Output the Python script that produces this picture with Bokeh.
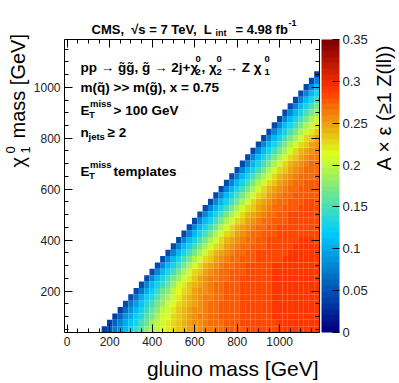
import math
import numpy as np
from bokeh.plotting import figure
from bokeh.models import (ColumnDataSource, LinearColorMapper, ColorBar, Label,
                          LinearAxis, FixedTicker, Range1d, CustomJSTickFormatter)
from bokeh.embed import file_html
from bokeh.resources import INLINE

# ---------------- data ----------------
gluino_mass = [175, 200, 225, 250, 275, 300, 325, 350, 375, 400, 425, 450, 475, 500,
               525, 550, 575, 600, 625, 650, 675, 700, 725, 750, 775, 800, 825, 850,
               875, 900, 925, 950, 975, 1000, 1025, 1050, 1075, 1100, 1125, 1150, 1175]
chi_mass = [50, 75, 100, 125, 150, 175, 200, 225, 250, 275, 300, 325, 350, 375, 400,
            425, 450, 475, 500, 525, 550, 575, 600, 625, 650, 675, 700, 725, 750, 775,
            800, 825, 850, 875, 900, 925, 950, 975, 1000, 1025, 1050]
# A x eff (per mille); row i = chi_mass[i], k-th entry = gluino_mass[i + k]
acc_rows = [
    [40,52,70,90,108,122,140,158,175,190,202,212,220,228,235,241,246,251,256,260,264,267,270,273,275,277,279,281,282,283,284,285,286,287,287,288,288,289,289,290,289],
    [40,58,78,98,115,130,147,165,182,197,209,219,228,236,243,249,254,258,262,266,269,272,274,276,278,280,281,283,284,285,286,286,287,288,288,289,290,289,288,289],
    [41,62,85,104,122,138,155,173,189,203,215,225,234,242,249,254,259,263,267,270,273,275,277,279,281,282,283,284,285,286,287,288,288,289,290,289,291,289,288],
    [41,66,90,110,128,145,162,180,196,209,221,231,239,247,253,258,262,266,270,273,275,277,279,281,282,283,284,285,286,287,288,289,290,291,290,289,290,289],
    [42,70,96,116,134,152,170,188,203,216,227,236,244,251,257,262,266,270,273,275,277,279,281,282,283,284,285,286,287,288,290,291,292,290,291,289,290],
    [42,73,100,120,139,158,176,194,209,222,232,241,248,255,260,265,269,272,275,277,279,281,282,283,284,285,286,287,289,290,292,291,293,290,289,290],
    [42,76,104,124,143,162,181,199,214,227,237,245,252,258,263,267,271,274,277,279,281,282,283,284,285,286,287,288,290,292,291,293,290,291,289],
    [42,78,106,127,146,165,185,203,218,231,241,249,256,261,266,270,273,276,278,280,282,283,284,285,286,287,288,290,291,293,291,292,290,289],
    [42,79,108,129,148,168,188,206,221,235,245,253,259,264,269,272,275,278,280,281,283,284,285,286,287,288,289,291,292,290,291,290,289],
    [42,80,110,131,150,170,190,208,224,238,248,256,262,267,271,274,277,279,281,282,284,285,286,287,288,289,290,291,290,292,290,289],
    [43,81,111,130,151,171,191,209,225,239,249,257,263,268,272,275,278,280,281,283,284,285,287,288,290,289,291,290,289,290,288],
    [42,80,110,131,150,170,190,208,224,238,248,256,262,267,271,274,277,279,281,282,283,285,286,287,289,290,291,289,288,289],
    [43,80,111,130,151,171,191,209,225,239,249,257,263,268,272,275,278,280,282,283,284,285,286,288,289,290,288,289,287],
    [42,81,110,131,150,170,190,208,224,238,248,256,262,267,271,274,277,279,281,282,283,284,286,287,288,289,288,287],
    [42,80,111,130,151,171,191,209,225,239,249,257,263,268,272,275,278,280,281,283,284,285,286,287,288,287,286],
    [43,80,110,131,150,170,190,208,224,238,248,256,262,267,271,274,277,279,281,282,283,284,285,286,285,284],
    [42,81,111,130,151,171,191,209,225,239,249,257,263,268,272,275,278,280,281,283,284,285,286,285,284],
    [42,80,110,131,150,170,190,208,224,238,248,256,262,267,271,274,277,279,281,282,283,284,283,282],
    [43,80,111,130,151,171,191,209,225,239,249,257,263,268,272,275,278,280,281,282,283,282,281],
    [42,81,110,131,150,170,190,208,224,238,248,256,262,267,271,274,277,279,280,281,281,280],
    [42,80,111,130,151,171,191,209,225,239,249,257,263,268,272,275,277,279,280,280,279],
    [43,80,110,131,150,170,190,208,224,238,248,256,262,267,271,274,276,278,279,278],
    [42,81,111,130,151,171,191,209,225,239,249,257,263,268,272,274,276,277,277],
    [42,80,110,131,150,170,190,208,224,238,248,256,262,267,270,273,275,276],
    [43,80,111,130,151,171,191,209,225,239,249,257,263,267,270,272,274],
    [42,81,110,131,150,170,190,208,224,238,248,256,262,266,269,271],
    [42,80,111,130,151,171,191,209,225,239,249,257,262,266,268],
    [43,80,110,131,150,170,190,208,224,238,248,256,261,265],
    [42,81,111,130,151,171,191,209,225,239,249,256,261],
    [42,80,110,131,150,170,190,208,224,238,247,255],
    [43,80,111,130,151,171,191,209,225,238,247],
    [42,81,110,131,150,170,190,208,223,237],
    [42,80,111,130,151,171,190,207,222],
    [43,80,110,131,150,170,189,206],
    [42,81,111,130,150,169,188],
    [42,80,110,130,149,168],
    [43,80,110,130,148],
    [42,80,109,129],
    [42,79,108],
    [42,79],
    [41],
]
x_ticks = [0, 200, 400, 600, 800, 1000]
y_ticks = [200, 400, 600, 800, 1000]
z_ticks = [0, 0.05, 0.1, 0.15, 0.2, 0.25, 0.3, 0.35]

# ---------------- build source ----------------
gx, cy, vals = [], [], []
for i, row in enumerate(acc_rows):
    for g, v in zip(gluino_mass[i:], row):
        gx.append(g)
        cy.append(chi_mass[i])
        vals.append(v / 1000.0)
src = ColumnDataSource(dict(g=gx, chi=cy, v=vals))

# ROOT-style gradient palette
stops = [0.00, 0.34, 0.61, 0.84, 1.00]
reds = [0.00, 0.00, 0.87, 1.00, 0.51]
greens = [0.00, 0.81, 1.00, 0.20, 0.00]
blues = [0.51, 1.00, 0.12, 0.00, 0.00]
NCOL = 50
palette = []
for i in range(NCOL):
    f = i / (NCOL - 1)
    r = np.interp(f, stops, reds)
    gg = np.interp(f, stops, greens)
    b = np.interp(f, stops, blues)
    palette.append("#%02x%02x%02x" % (int(round(r * 255)), int(round(gg * 255)), int(round(b * 255))))
mapper = LinearColorMapper(palette=palette, low=0.0, high=0.35)

# ---------------- geometry (page pixels) ----------------
W, H = 399, 383
PL, PR, PT, PB = 64, 319, 39, 332          # plot box on the page
X0, X1 = -12.5, 1187.5                      # histogram axis ranges
Y0, Y1 = 37.5, 1187.5
KX = (X1 - X0) / (PR - PL)
KY = (Y1 - Y0) / (PB - PT)
XS, XE = X0 - PL * KX, X1 + (W - PR) * KX
YE, YS = Y1 + PT * KY, Y0 - (H - PB) * KY

p = figure(width=W, height=H, x_range=Range1d(XS, XE), y_range=Range1d(YS, YE),
           output_backend="svg", toolbar_location=None,
           x_axis_type=None, y_axis_type=None,
           min_border_left=0, min_border_right=0, min_border_top=0, min_border_bottom=0)
p.title.visible = False
p.outline_line_color = None
p.background_fill_color = "white"
p.border_fill_color = "white"

p.rect(x="g", y="chi", width=25, height=25, source=src,
       fill_color={"field": "v", "transform": mapper}, line_color=None)

def make_axis(ticks, minor, loc, bounds, labels=True):
    ax = LinearAxis(ticker=FixedTicker(ticks=ticks, minor_ticks=minor),
                    fixed_location=loc, bounds=bounds)
    ax.major_tick_in = 8
    ax.major_tick_out = 0
    ax.minor_tick_in = 4
    ax.minor_tick_out = 0
    ax.axis_line_color = "black"
    ax.major_tick_line_color = "black"
    ax.minor_tick_line_color = "black"
    ax.major_label_text_font = "Liberation Sans"
    ax.major_label_text_color = "#222222"
    ax.major_label_text_font_size = "12px"
    ax.major_label_standoff = 4
    if not labels:
        ax.formatter = CustomJSTickFormatter(code="return '';")
    return ax

xminor = list(range(0, 1200, 50))
yminor = list(range(50, 1200, 50))
p.add_layout(make_axis(x_ticks, xminor, Y0, (X0, X1)), "below")
p.add_layout(make_axis(y_ticks, yminor, X0, (Y0, Y1)), "left")
p.add_layout(make_axis(x_ticks, xminor, Y1, (X0, X1), labels=False), "above")
p.add_layout(make_axis(y_ticks, yminor, X1, (Y0, Y1), labels=False), "right")

cb = ColorBar(color_mapper=mapper, ticker=FixedTicker(ticks=z_ticks),
              formatter=CustomJSTickFormatter(code="return Number(tick.toFixed(2)).toString();"),
              width=18, height=PB - PT, padding=0, margin=0, label_standoff=3,
              major_tick_in=7, major_tick_out=0, major_tick_line_color="black",
              minor_tick_line_color=None,
              major_label_text_font="Liberation Sans", major_label_text_font_size="13px",
              major_label_text_color="#222222", bar_line_color=None,
              location=(321, H - PB), background_fill_alpha=0)
p.add_layout(cb)

# ---------------- text helpers (page pixel -> data) ----------------
def dx(xp):
    return XS + xp * KX

def dy(yp):
    return YE - yp * KY

def lab(text, xp, yp, size, bold=True, align="left", angle=0.0):
    p.add_layout(Label(x=dx(xp), y=dy(yp), text=text, text_font="Liberation Sans",
                       text_font_size=f"{size}px",
                       text_font_style="bold" if bold else "normal",
                       text_align=align, text_baseline="alphabetic",
                       text_color="black", angle=angle))

NB = "\u00a0"
# header
lab(f"CMS,{NB} \u221as = 7 TeV,{NB} L", 91, 28.5, 13)
lab("int", 215, 32.5, 9)
lab("= 4.98 fb", 235, 28.5, 13)
lab("-1", 288, 22.5, 9)

# annotation block
FS, SS = 13.5, 9.5
lab("pp \u2192 g\u0303g\u0303, g\u0303 \u2192 2j+\u03c7", 80, 66.7, FS)
lab("0", 195, 58, SS); lab("2", 195, 71.5, SS)
lab(", \u03c7", 201, 66.7, FS)
lab("0", 216, 58, SS); lab("2", 216, 71.5, SS)
lab("\u2192 Z \u03c7", 224, 66.7, FS)
lab("0", 264, 58, SS); lab("1", 264, 71.5, SS)

lab("m(q\u0303) >> m(g\u0303), x = 0.75", 80, 86.7, FS)

lab("E", 80, 109.5, FS)
lab("miss", 89.5, 103, SS); lab("T", 88.5, 114, SS)
lab("> 100 GeV", 113, 109.5, FS)

lab("n", 80, 131.7, FS)
lab("jets", 88, 136, SS)
lab("\u2265 2", 107, 131.7, FS)

lab("E", 80, 170.5, FS)
lab("miss", 89.5, 163.5, SS); lab("T", 88.5, 175, SS)
lab("templates", 113, 170.5, FS)

# axis titles
lab("gluino mass [GeV]", 318, 368, 21, bold=False, align="right")
ang = math.pi / 2
lab("\u03c7", 17.5, 167, 20, bold=False, angle=ang)
lab("0", 10, 153, 13, bold=False, angle=ang)
lab("1", 25, 153, 13, bold=False, angle=ang)
lab("mass [GeV]", 17.5, 138, 20, bold=False, angle=ang)
lab("A \u00d7 \u03b5 (\u22651 Z(ll))", 383, 170, 20, bold=False, angle=ang)

open("out.html", "w").write(file_html(p, INLINE))
